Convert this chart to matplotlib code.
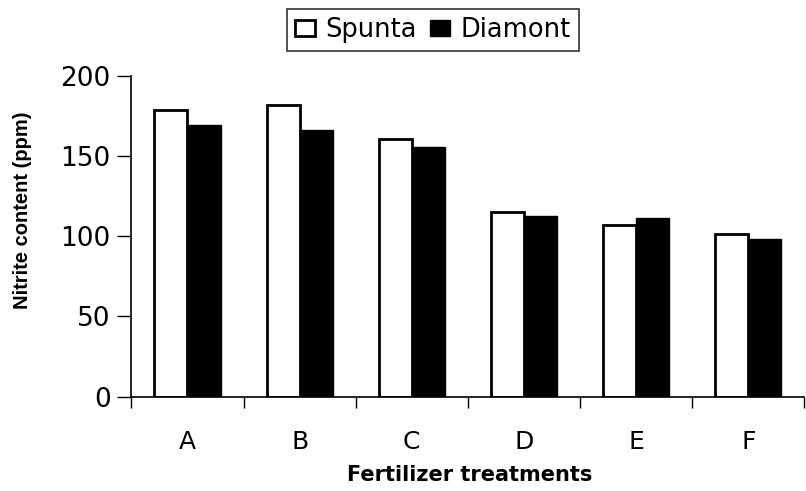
import numpy as np
import matplotlib
matplotlib.use("Agg")
from matplotlib import pyplot as plt

# Data #
treatments = ["A", "B", "C", "D", "E", "F"]
spunta = [178.5, 182, 160.7, 115, 107, 101.5]
diamont = [169.5, 166, 155.3, 112.7, 111.3, 98.2]

plt.rcParams['font.family'] = ['DejaVu Sans']

fig = plt.figure(figsize=(8.06, 4.91), dpi=100)
ax = fig.add_axes([0.163, 0.192, 0.835, 0.654])

x = np.arange(len(treatments))
w = 0.295
ax.bar(x - w / 2, spunta, w, color="white", edgecolor="black", linewidth=2.0, label="Spunta")
ax.bar(x + w / 2, diamont, w, color="black", edgecolor="black", linewidth=1.0, label="Diamont")

ax.set_xlim(-0.5, len(treatments) - 0.5)
ax.set_ylim(0, 200)
ax.set_yticks([0, 50, 100, 150, 200])

# Category ticks sit between groups #
ax.set_xticks(np.arange(len(treatments) + 1) - 0.5)
ax.set_xticklabels([])
ax.set_xticks(x, minor=True)
ax.set_xticklabels(treatments, minor=True)
ax.tick_params(axis="x", which="minor", length=0, pad=24, labelsize=18)
ax.tick_params(axis="x", which="major", direction="out", length=8, width=1)
ax.tick_params(axis="y", direction="out", length=10, width=1, labelsize=19, pad=5)

for s in ["top", "right"]:
    ax.spines[s].set_visible(False)
ax.spines["left"].set_linewidth(1.2)
ax.spines["bottom"].set_linewidth(1.2)

ax.set_xlabel("Fertilizer treatments", fontsize=15, fontweight="bold")
ax.xaxis.set_label_coords(0.502, -0.212)
ax.set_ylabel("Nitrite content (ppm)", fontsize=14.5, fontweight="bold",
              family=["Liberation Sans", "DejaVu Sans"])
ax.yaxis.set_label_coords(-0.148, 0.58)

leg = fig.legend(loc="center", bbox_to_anchor=(0.537, 0.939), ncol=2, fontsize=18.5,
                 frameon=True, fancybox=False, edgecolor="black",
                 handlelength=0.8, handleheight=0.6, handletextpad=0.4,
                 columnspacing=0.5, borderpad=0.3, borderaxespad=0)
leg.get_frame().set_linewidth(1.2)

plt.savefig("out.png", dpi=100)
